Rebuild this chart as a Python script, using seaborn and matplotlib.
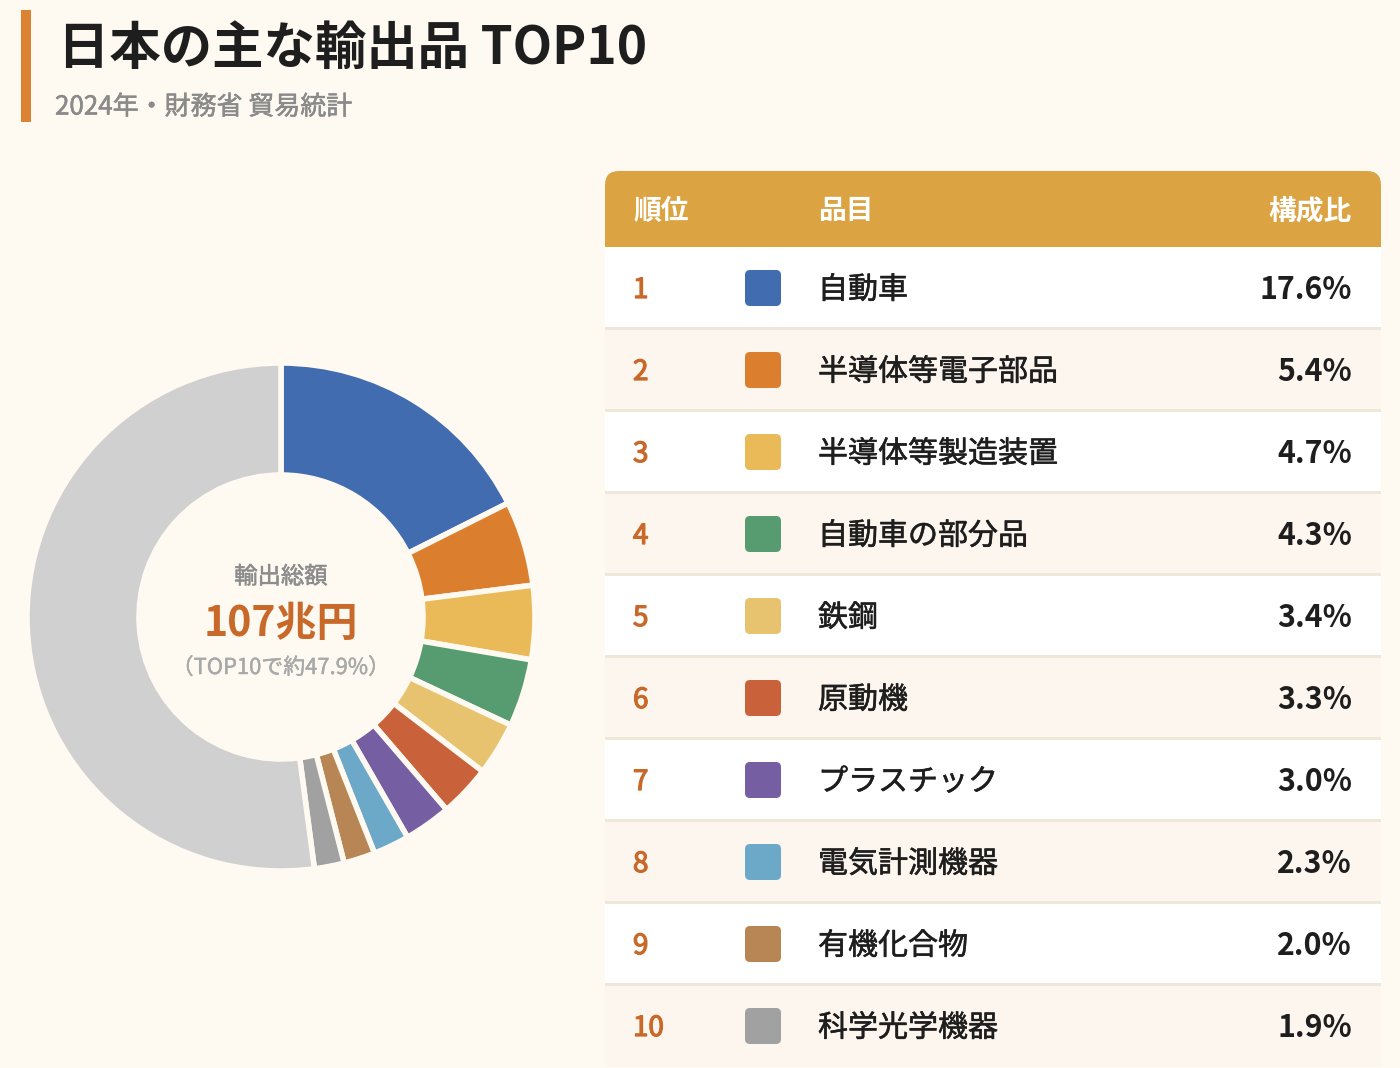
import matplotlib
matplotlib.use("Agg")
import matplotlib.pyplot as plt
from matplotlib.patches import FancyBboxPatch, Rectangle
import matplotlib.patheffects as pe
import seaborn as sns
import pandas as pd

# ---- data ----
ranks = [1, 2, 3, 4, 5, 6, 7, 8, 9, 10]
items = ["自動車", "半導体等電子部品", "半導体等製造装置", "自動車の部分品", "鉄鋼",
         "原動機", "プラスチック", "電気計測機器", "有機化合物", "科学光学機器"]
shares = [17.6, 5.4, 4.7, 4.3, 3.4, 3.3, 3.0, 2.3, 2.0, 1.9]
colors = ["#416db0", "#db7f2f", "#ebba58", "#569c70", "#e8c36f",
          "#c9623b", "#765ea3", "#6ca9c8", "#b88554", "#a1a1a1"]
other_label = "その他"
other_color = "#d0d0d0"
total_label = "輸出総額"
total_value = "107兆円"
top10_note = "（TOP10で約47.9%）"
title = "日本の主な輸出品 TOP10"
subtitle = "2024年・財務省 貿易統計"
headers = ["順位", "品目", "構成比"]

df = pd.DataFrame({"rank": ranks, "item": items, "share": shares, "color": colors})
other_share = round(100 - df["share"].sum(), 1)

# ---- style ----
BG = "#fef9f1"
sns.set_theme(style="white")
plt.rcParams["font.family"] = ["Noto Sans CJK JP", "DejaVu Sans"]

W, H = 1400, 1068
fig = plt.figure(figsize=(W / 100, H / 100), dpi=100, facecolor=BG)


def thick(color, w):
    return [pe.withStroke(linewidth=w, foreground=color)]


# ---- overlay axes in pixel coordinates ----
ov = fig.add_axes([0, 0, 1, 1])
ov.set_xlim(0, W)
ov.set_ylim(H, 0)
ov.axis("off")
ov.set_facecolor(BG)

# title block
ov.add_patch(Rectangle((21, 10), 10, 112, color="#dc8233", lw=0))
ov.text(58, 48, title, fontsize=37, fontweight="bold", color="#1e1e1e", va="center", ha="left")
ov.text(55, 107, subtitle, fontsize=18.7, color="#8a8a8a", va="center", ha="left",
        path_effects=thick("#8a8a8a", 0.4))

# ---- donut ----
cx, cy, R, r_in = 281, 617, 254, 142
pax = fig.add_axes([(cx - R) / W, (H - cy - R) / H, 2 * R / W, 2 * R / H])
pax.set_facecolor("none")
vals = list(df["share"]) + [other_share]
cols = list(df["color"]) + [other_color]
pax.pie(vals, colors=cols, startangle=90, counterclock=False, radius=1,
        wedgeprops=dict(width=(R - r_in) / R, edgecolor=BG, linewidth=4))
pax.set_xlim(-1.0, 1.0)
pax.set_ylim(-1.0, 1.0)
pax.set_aspect("equal")
pax.axis("off")

ov.text(cx, 577, total_label, fontsize=16.8, color="#8c8c8c", ha="center", va="center",
        path_effects=thick("#8c8c8c", 0.4))
ov.text(cx, 624, total_value, fontsize=29.5, fontweight="bold", color="#c8692a", ha="center", va="center")
ov.text(cx, 668, top10_note, fontsize=15.8, color="#a8a8a8", ha="center", va="center",
        path_effects=thick("#a8a8a8", 0.3))

# ---- table ----
tx0, tx1 = 605, 1381
hy0, hy1 = 171, 247
row_h = 82
ov.add_patch(FancyBboxPatch((tx0, hy0), tx1 - tx0, hy1 - hy0 + 20,
                            boxstyle="round,pad=0,rounding_size=14",
                            fc="#dca342", ec="none", lw=0, zorder=2))
ov.add_patch(Rectangle((tx0, hy0 + 30), tx1 - tx0, hy1 - hy0 - 30 + 20, fc="#dca342", ec="none", zorder=2))
hcy = (hy0 + hy1) / 2 + 2
ov.text(633, hcy, headers[0], fontsize=20, fontweight="bold", color="white", ha="left", va="center", zorder=5)
ov.text(818, hcy, headers[1], fontsize=20, fontweight="bold", color="white", ha="left", va="center", zorder=5)
ov.text(1352, hcy, headers[2], fontsize=20, fontweight="bold", color="white", ha="right", va="center", zorder=5)

for i, row in df.iterrows():
    y0 = hy1 + i * row_h
    fc = "#ffffff" if i % 2 == 0 else "#fdf6ee"
    ov.add_patch(Rectangle((tx0, y0), tx1 - tx0, row_h, fc=fc, ec="none", zorder=3))
    if i < len(df) - 1:
        ov.add_patch(Rectangle((tx0, y0 + row_h - 2), tx1 - tx0, 2.5, fc="#efe7da", ec="none", zorder=4))
    yc = y0 + row_h / 2 + 2
    ov.text(633, yc, str(row["rank"]), fontsize=20, color="#c8692a",
            ha="left", va="center", zorder=5, path_effects=thick("#c8692a", 0.9))
    ov.add_patch(FancyBboxPatch((745, yc - 20), 36, 36, boxstyle="round,pad=0,rounding_size=5",
                                fc=row["color"], ec="none", zorder=5))
    ov.text(818, yc, row["item"], fontsize=21.6, color="#1e1e1e", ha="left", va="center", zorder=5,
            path_effects=thick("#1e1e1e", 0.4))
    ov.text(1352, yc, f"{row['share']:.1f}%", fontsize=21.8, fontweight="bold", color="#1e1e1e",
            ha="right", va="center", zorder=5)

fig.savefig("out.png", dpi=100, facecolor=BG)
